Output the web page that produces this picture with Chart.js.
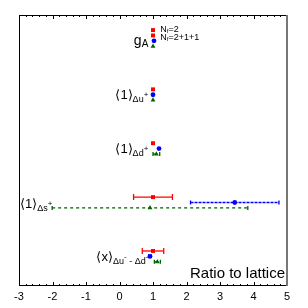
<!DOCTYPE html>
<html>
<head>
<meta charset="utf-8">
<script src="https://cdn.jsdelivr.net/npm/chart.js@4"></script>
<style>
  html, body { margin: 0; padding: 0; background: #fff; }
  #wrap { width: 308px; height: 308px; }
</style>
</head>
<body>
<div id="wrap"><canvas id="myChart"></canvas></div>
<script>
// rows from top to bottom
var rowNames = ['gA', '1_du+', '1_dd+', '1_ds+', 'x_du-dd'];
// ratio to lattice, three groups of results
var nf2Vals = [1.0, 1.0, 1.0, 1.0, 1.0];
var nf2Errs = [0, 0, 0, 0.58, 0.32];
var nf211Vals = [1.03, 1.0, 1.18, 3.44, 0.91];
var nf211Errs = [0, 0, 0, 1.32, 0.04];
var otherVals = [1.0, 1.0, 1.1, 0.91, 1.13];
var otherErrs = [0, 0, 0.1, 2.92, 0.09];
var xTickLabels = ['-3', '-2', '-1', '0', '1', '2', '3', '4', '5'];

var rowOffsets = [-0.1, 0, 0.1];

function toPoints(vals, off) {
    return vals.map(function (v, i) { return { x: v, y: i + off }; });
}

var red = '#ff0000', blue = '#0000ff', green = '#006400';

var errorBars = {
    id: 'errorBars',
    beforeDatasetsDraw: function (chart) {
        var ctx = chart.ctx, xs = chart.scales.x, ys = chart.scales.y;
        var sets = [
            { vals: nf2Vals, errs: nf2Errs, off: rowOffsets[0], color: red, dash: [], cap: 3 },
            { vals: nf211Vals, errs: nf211Errs, off: rowOffsets[1], color: blue, dash: [3, 1], cap: 2 },
            { vals: otherVals, errs: otherErrs, off: rowOffsets[2], color: green, dash: [3, 3], cap: 2 }
        ];
        ctx.save();
        sets.forEach(function (s) {
            s.vals.forEach(function (v, i) {
                if (!s.errs[i]) return;
                var x1 = xs.getPixelForValue(v - s.errs[i]);
                var x2 = xs.getPixelForValue(v + s.errs[i]);
                var y = ys.getPixelForValue(i + s.off);
                ctx.strokeStyle = s.color;
                ctx.lineWidth = 1.3;
                ctx.setLineDash(s.dash);
                ctx.beginPath();
                ctx.moveTo(x1, y); ctx.lineTo(x2, y);
                ctx.stroke();
                ctx.setLineDash([]);
                ctx.beginPath();
                ctx.moveTo(x1, y - s.cap); ctx.lineTo(x1, y + s.cap);
                ctx.moveTo(x2, y - s.cap); ctx.lineTo(x2, y + s.cap);
                ctx.stroke();
            });
        });
        ctx.restore();
    }
};

// draws text made of pieces: [text, size, dy]
function drawPieces(ctx, pieces, x, y, alignRight) {
    var w = 0;
    pieces.forEach(function (p) {
        ctx.font = p[1] + 'px "Liberation Sans", Arial, sans-serif';
        p.w = ctx.measureText(p[0]).width;
        w += p.w;
    });
    var cx = alignRight ? x - w : x;
    pieces.forEach(function (p) {
        ctx.font = p[1] + 'px "Liberation Sans", Arial, sans-serif';
        ctx.fillText(p[0], cx, y + p[2]);
        cx += p.w;
    });
}

var decor = {
    id: 'decor',
    afterDatasetsDraw: function (chart) {
        var ctx = chart.ctx, xs = chart.scales.x, ys = chart.scales.y;
        var a = chart.chartArea;
        ctx.save();
        // inward ticks on top and bottom
        ctx.strokeStyle = '#000';
        ctx.lineWidth = 1;
        for (var k = 0; k <= 40; k++) {
            var v = -3 + k * 0.2;
            var px = Math.round(xs.getPixelForValue(v)) + 0.5;
            var len = (k % 5 === 0) ? 4 : 2;
            ctx.beginPath();
            ctx.moveTo(px, a.bottom); ctx.lineTo(px, a.bottom - len);
            ctx.moveTo(px, a.top); ctx.lineTo(px, a.top + len);
            ctx.stroke();
        }
        // frame
        ctx.beginPath();
        ctx.moveTo(a.left + 0.5, a.bottom); ctx.lineTo(a.left + 0.5, a.top + 0.5);
        ctx.lineTo(a.right, a.top + 0.5);
        ctx.moveTo(a.left, a.bottom - 0.5); ctx.lineTo(a.right, a.bottom - 0.5);
        ctx.stroke();
        ctx.strokeStyle = '#777';
        ctx.lineWidth = 2;
        ctx.beginPath();
        ctx.moveTo(a.right, a.top); ctx.lineTo(a.right, a.bottom);
        ctx.stroke();

        // row labels
        ctx.fillStyle = '#000';
        ctx.textBaseline = 'middle';
        var rx = xs.getPixelForValue(0.86);
        drawPieces(ctx, [['g', 14, 0], ['A', 10, 3]], rx, ys.getPixelForValue(0), true);
        drawPieces(ctx, [['\u27E81\u27E9', 13, 0], ['\u0394u', 9, 4], ['+', 8, -1]], rx, ys.getPixelForValue(1) + 1, true);
        drawPieces(ctx, [['\u27E81\u27E9', 13, 0], ['\u0394d', 9, 4], ['+', 8, -1]], rx, ys.getPixelForValue(2) + 1, true);
        drawPieces(ctx, [['\u27E81\u27E9', 13, 0], ['\u0394s', 9, 4], ['+', 8, -1]], a.left + 1, ys.getPixelForValue(3) + 2, false);
        drawPieces(ctx, [['\u27E8x\u27E9', 13, 0], ['\u0394u', 9, 4], ['-', 8, -1], [' - \u0394d', 9, 4], ['-', 8, -1]], rx, ys.getPixelForValue(4) + 1, true);

        // legend text
        var lx = xs.getPixelForValue(1.22);
        drawPieces(ctx, [['N', 9, 0], ['f', 6, 2], ['=2', 9, 0]], lx, ys.getPixelForValue(-0.21), false);
        drawPieces(ctx, [['N', 9, 0], ['f', 6, 2], ['=2+1+1', 9, 0]], lx, ys.getPixelForValue(-0.07), false);

        // annotation
        ctx.textBaseline = 'alphabetic';
        ctx.font = '15px "Liberation Sans", Arial, sans-serif';
        ctx.textAlign = 'right';
        ctx.fillText('Ratio to lattice', a.right - 2, a.bottom - 8);
        ctx.restore();
    }
};

document.addEventListener('DOMContentLoaded', function () {
    var ctx = document.getElementById('myChart').getContext('2d');
    var myChart = new Chart(ctx, {
        type: 'scatter',
        data: {
            datasets: [{
                label: 'legend',
                data: [{ x: 1.0, y: -0.2 }],
                backgroundColor: red,
                borderColor: red,
                borderWidth: 0,
                pointStyle: 'rect',
                pointRadius: 2.8
            }, {
                label: 'Nf=2',
                data: toPoints(nf2Vals, rowOffsets[0]),
                backgroundColor: red,
                borderColor: red,
                borderWidth: 0,
                pointStyle: 'rect',
                pointRadius: 2.8
            }, {
                label: 'Nf=2+1+1',
                data: toPoints(nf211Vals, rowOffsets[1]),
                backgroundColor: blue,
                borderColor: blue,
                borderWidth: 0,
                pointStyle: 'circle',
                pointRadius: 2.4
            }, {
                label: 'other',
                data: toPoints(otherVals, rowOffsets[2]),
                backgroundColor: green,
                borderColor: green,
                borderWidth: 0,
                pointStyle: 'triangle',
                pointRadius: 2.8
            }]
        },
        options: {
            responsive: true,
            maintainAspectRatio: false,
            animation: false,
            layout: { padding: { left: 19, top: 15, right: 21, bottom: 0 } },
            plugins: {
                legend: { display: false },
                tooltip: { enabled: false }
            },
            scales: {
                x: {
                    type: 'linear',
                    min: -3,
                    max: 5,
                    grid: { display: false, drawTicks: false },
                    border: { display: false },
                    afterFit: function (scale) { scale.height = 22; },
                    afterBuildTicks: function (scale) {
                        scale.ticks = xTickLabels.map(function (t) { return { value: Number(t) }; });
                    },
                    ticks: {
                        padding: 4,
                        color: '#000',
                        autoSkip: false,
                        maxRotation: 0,
                        font: { size: 11, family: '"Liberation Sans", Arial, sans-serif' },
                        callback: function (v, i) { return xTickLabels[i]; }
                    }
                },
                y: {
                    type: 'linear',
                    display: false,
                    reverse: true,
                    min: -0.48,
                    max: 4.55
                }
            }
        },
        plugins: [errorBars, decor]
    });
});
</script>
</body>
</html>
